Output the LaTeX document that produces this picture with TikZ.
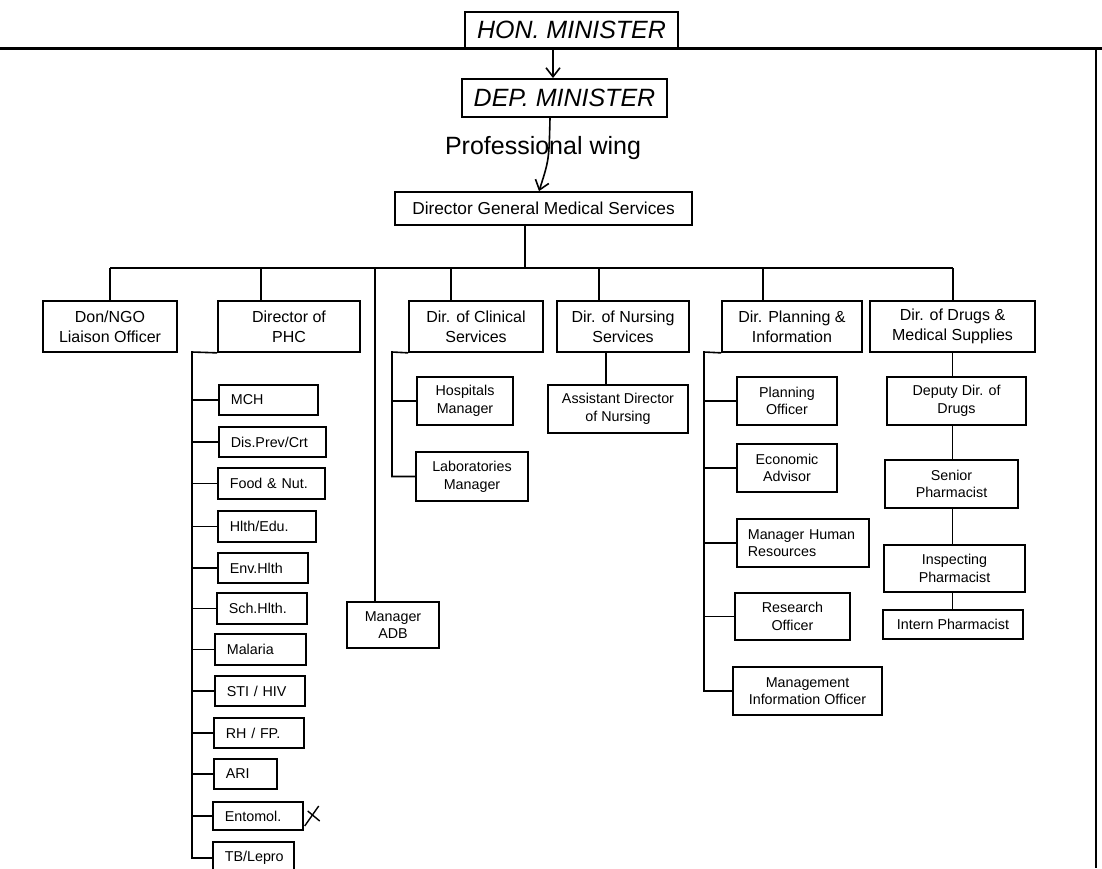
\documentclass[tikz,border=0pt]{standalone}
\usepackage{fontspec}
\setmainfont{Liberation Sans}
\usetikzlibrary{arrows.meta}

\tikzset{
  unit/.style={draw, line width=1.7pt, inner sep=0pt, align=center,
    font=\fontsize{16}{20}\selectfont},
  post/.style={unit, font=\fontsize{14.3}{17.7}\selectfont},
  leaf/.style={post, anchor=west, align=left, inner xsep=12pt, minimum height=30pt},
  hand/.style={draw, line width=1.9pt, inner sep=0pt,
    font=\fontsize{25}{30}\selectfont\itshape},
  link/.style={line width=1.6pt},
  pen/.style={line width=1.6pt, -{Straight Barb[length=9pt,width=14pt]}}
}

\begin{document}
\begin{tikzpicture}[x=1pt, y=-1pt]
	\useasboundingbox (0,0) rectangle (1102,868);
	% page rules
	\draw[line width=3pt] (0,48) -- (1102,48);
	\draw[line width=2.4pt] (1096,48) -- (1096,868);

	% ministers
	\node[hand, minimum width=213pt, minimum height=36pt] (hon) at (571.5,30) {HON. MINISTER};
	\node[hand, minimum width=205pt, minimum height=38pt] (dep) at (564.5,98) {DEP. MINISTER};
	\node[font=\fontsize{25}{30}\selectfont] (wing) at (543,148) {Professional wing};
	\node[unit, font=\fontsize{17.3}{21}\selectfont, minimum width=297pt, minimum height=33pt] (dg) at (543.5,208.5) {Director General Medical Services};
	\draw[pen] ([xshift=-18.5pt]hon.south) -- ([xshift=-11.5pt]dep.north);
	\draw[pen] ([xshift=-14.5pt]dep.south) .. controls (549,160) .. ([xshift=-4.5pt]dg.north);

	% directors
	\node[unit, minimum width=134pt, minimum height=51pt] (don) at (110,326.5) {Don/NGO\\Liaison Officer};
	\node[unit, minimum width=142pt, minimum height=51pt] (phc) at (289,326.5) {Director of\\PHC};
	\node[unit, minimum width=134pt, minimum height=51pt] (clin) at (476,326.5) {Dir. of Clinical\\Services};
	\node[unit, minimum width=132pt, minimum height=51pt] (nurs) at (623,326.5) {Dir. of Nursing\\Services};
	\node[unit, minimum width=140pt, minimum height=51pt] (plan) at (792,326.5) {Dir. Planning \&\\Information};
	\node[unit, minimum width=165pt, minimum height=51pt] (drug) at (952.5,326.5) {Dir. of Drugs \&\\Medical Supplies};
	\node[post, minimum width=92pt, minimum height=46pt] (adb) at (393,625) {Manager\\ADB};

	\coordinate (busL) at (110,268);
	\coordinate (busR) at (953,268);
	\draw[link] (busL) -- (busR);
	\draw[link] ([xshift=-18.5pt]dg.south) -- ([xshift=-18.5pt]dg.south |- busL);
	\foreach \n/\s in {don/0, phc/-28, clin/-25, nurs/-24, plan/-29, drug/0.5}
		\draw[link] ([xshift=\s pt]\n.north) -- ([xshift=\s pt]\n.north |- busL);
	\draw[link] ([xshift=-18pt]adb.north) -- ([xshift=-18pt]adb.north |- busL);

	% PHC programmes
	\node[leaf, text width=75pt] (mch) at (218,400) {MCH};
	\node[leaf, text width=83pt] (dis) at (218,442) {Dis.Prev/Crt};
	\node[leaf, text width=83pt, minimum height=31pt] (food) at (217,483.5) {Food \& Nut.};
	\node[leaf, text width=74pt, minimum height=31pt] (hlth) at (217,526.5) {Hlth/Edu.};
	\node[leaf, text width=66pt] (env) at (217,568) {Env.Hlth};
	\node[leaf, text width=66pt, minimum height=31pt] (sch) at (216,608.5) {Sch.Hlth.};
	\node[leaf, text width=67pt, minimum height=31pt] (mal) at (214,649.5) {Malaria};
	\node[leaf, text width=66pt] (sti) at (214,691) {STI / HIV};
	\node[leaf, text width=66pt] (rh) at (213,733) {RH / FP.};
	\node[leaf, text width=39pt] (ari) at (213,774) {ARI};
	\node[leaf, text width=66pt, minimum height=28pt] (ent) at (212,816) {Entomol.};
	\node[leaf, text width=57pt, minimum height=32pt] (tb) at (212,858) {TB/Lepro};
	\coordinate (phcS) at (192,352);
	\draw[link] (phc.south west) -- (phcS) |- (tb.west);
	\foreach \n in {mch,dis,food,hlth,env,sch,mal,sti,rh,ari,ent}
		\draw[link] (\n.west) -- (\n.west -| phcS);
	\draw[line width=1.4pt] ([shift={(1,10)}]ent.east) -- ++(14,-20);
	\draw[line width=1.4pt] ([shift={(4,-5)}]ent.east) -- ++(12,10);

	% clinical services
	\node[post, minimum width=96pt, minimum height=48pt] (hosp) at (465,401) {Hospitals\\Manager};
	\node[post, minimum width=112pt, minimum height=49pt] (lab) at (472,476.5) {Laboratories\\Manager};
	\coordinate (clinS) at (392,352);
	\draw[link] (clin.south west) -- (clinS) |- (lab.west);
	\draw[link] (hosp.west) -- (hosp.west -| clinS);

	% nursing
	\node[post, minimum width=140pt, minimum height=48pt] (asst) at (618,409) {Assistant Director\\of Nursing};
	\draw[link] ([xshift=-12pt]asst.north) -- ([xshift=-12pt]asst.north |- nurs.south);

	% planning
	\node[post, minimum width=100pt, minimum height=48pt] (po) at (787,401) {Planning\\Officer};
	\node[post, minimum width=100pt, minimum height=48pt] (ea) at (787,468) {Economic\\Advisor};
	\node[leaf, inner xsep=11pt, text width=110pt, minimum height=48pt] (mhr) at (736,543) {Manager Human\\Resources};
	\node[post, minimum width=115pt, minimum height=47pt] (ro) at (792.5,616.5) {Research\\Officer};
	\node[post, minimum width=149pt, minimum height=48pt] (mio) at (807.5,691) {Management\\Information Officer};
	\coordinate (planS) at (704,352);
	\draw[link] (plan.south west) -- (planS) |- (mio.west);
	\foreach \n in {po,ea,mhr,ro}
		\draw[link] (\n.west) -- (\n.west -| planS);

	% drugs
	\node[post, minimum width=139pt, minimum height=48pt] (ddd) at (956.5,401) {Deputy Dir. of\\Drugs};
	\node[post, minimum width=133pt, minimum height=48pt] (sp) at (951.5,484) {Senior\\Pharmacist};
	\node[post, minimum width=141pt, minimum height=47pt] (ip) at (954.5,568.5) {Inspecting\\Pharmacist};
	\node[post, minimum width=140pt, minimum height=29pt] (intern) at (953,624.5) {Intern Pharmacist};
	\foreach \a/\b in {drug/ddd, ddd/sp, sp/ip, ip/intern}
		\draw[link] (\a.south -| drug.south) -- (\b.north -| drug.south);
\end{tikzpicture}
\end{document}
